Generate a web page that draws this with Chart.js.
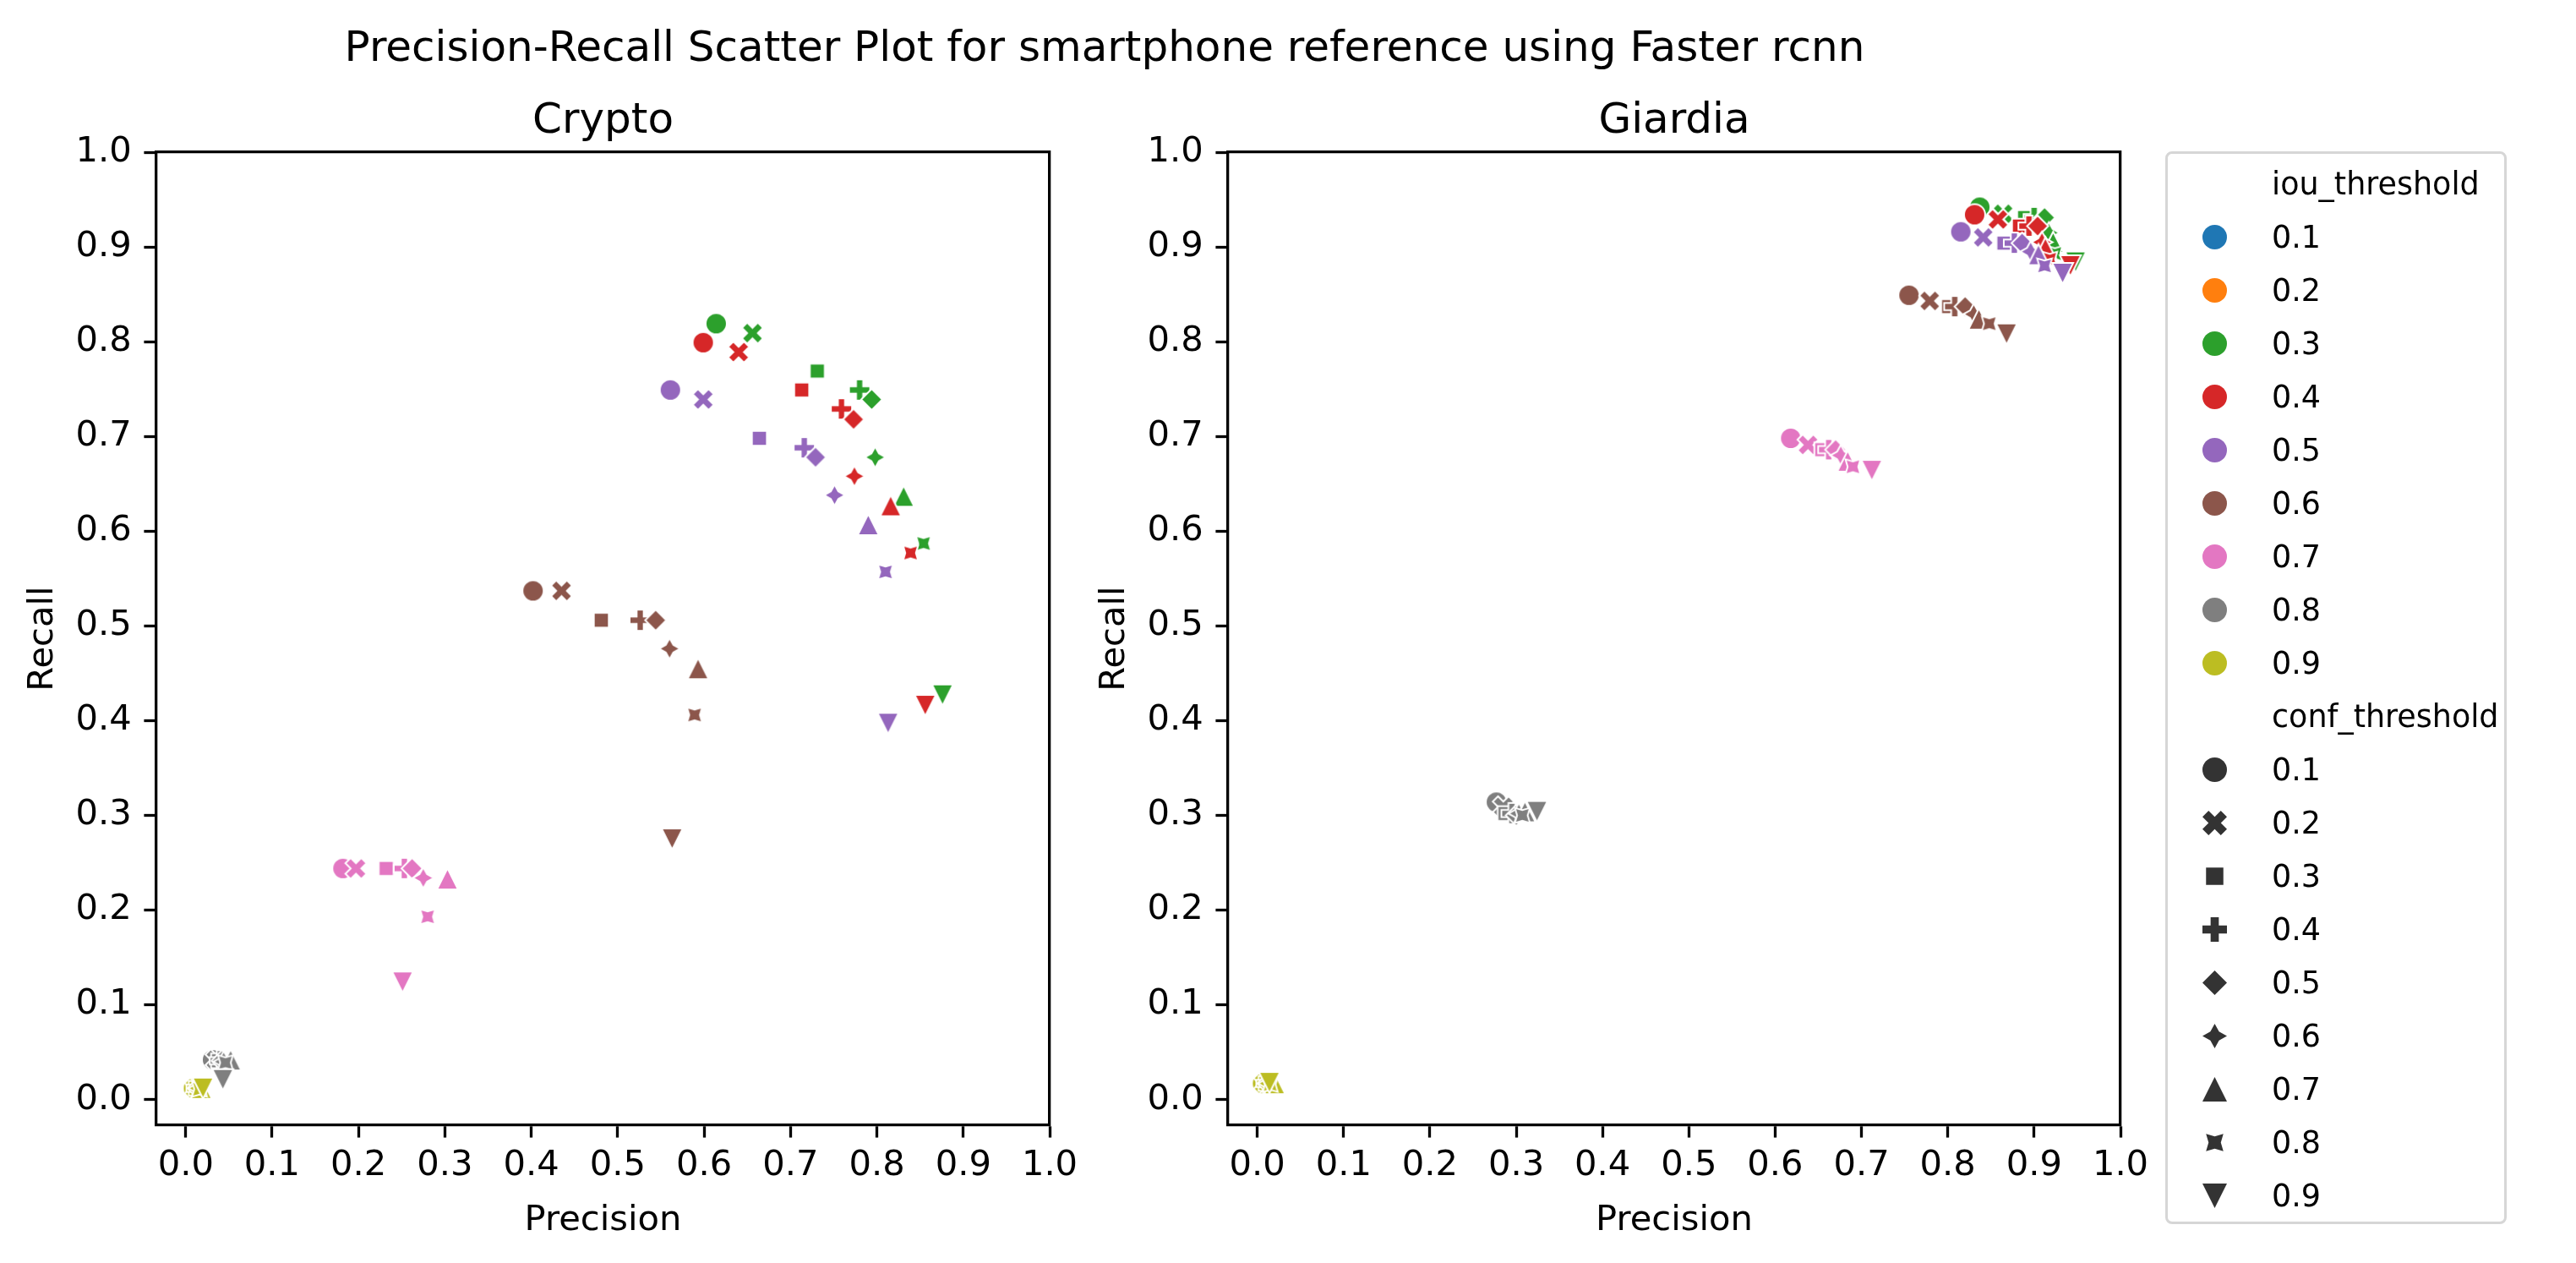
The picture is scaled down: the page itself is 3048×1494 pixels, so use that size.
<!DOCTYPE html>
<html>
<head>
<meta charset="utf-8">
<title>Precision-Recall Scatter Plot</title>
<script src="https://cdn.jsdelivr.net/npm/chart.js@4.4.1/dist/chart.umd.min.js"></script>
<style>
  html, body { margin: 0; padding: 0; background: #fff; }
  body {
    width: 3048px;
    height: 1494px;
    position: relative;
    overflow: hidden;
    font-family: 'DejaVu Sans', sans-serif;
    color: #000;
  }
  .panel { position: absolute; top: 0; }
  #suptitle {
    position: absolute;
    left: 1307px;
    top: 29.7px;
    transform: translateX(-50%);
    font-size: 50px;
    line-height: 50px;
    white-space: nowrap;
  }
  #legend-box {
    position: absolute;
    left: 2562px;
    top: 179px;
    width: 404px;
    height: 1269px;
    box-sizing: border-box;
    border: 3.3px solid #d6d6d6;
    border-radius: 8px;
    background: rgba(255, 255, 255, 0.8);
  }
  .legend-marker { position: absolute; }
  .legend-label {
    position: absolute;
    left: 2688px;
    font-size: 36.5px;
    line-height: 63px;
    height: 63px;
    white-space: nowrap;
  }
</style>
</head>
<body>
<div id="suptitle">Precision-Recall Scatter Plot for smartphone reference using Faster rcnn</div>
<div class="panel" style="left:0px"><canvas id="cryptoChart" width="1427" height="1494"></canvas></div>
<div class="panel" style="left:1268px"><canvas id="giardiaChart" width="1426" height="1494"></canvas></div>
<div id="legend-box"></div>
<div id="legend-rows"></div>
<script>
'use strict';

// hue (iou_threshold) and style (conf_threshold) levels
const iouLevels = ['0.1', '0.2', '0.3', '0.4', '0.5', '0.6', '0.7', '0.8', '0.9'];
const confLevels = ['0.1', '0.2', '0.3', '0.4', '0.5', '0.6', '0.7', '0.8', '0.9'];
const iouColors = ['#1f77b4', '#ff7f0e', '#2ca02c', '#d62728', '#9467bd', '#8c564b', '#e377c2', '#7f7f7f', '#bcbd22'];
const confMarkers = ['o', 'X', 'square', 'P', 'diamond', 'star', '^', 'star45', 'v'];

const tickValues = [0, 0.1, 0.2, 0.3, 0.4, 0.5, 0.6, 0.7, 0.8, 0.9, 1.0];

// rows: iou 0.1 .. 0.9, columns: conf 0.1 .. 0.9 (iou 0.1 / 0.2 show no marks)
const cryptoPrecision = [
  [],
  [],
  [0.614, 0.656, 0.731, 0.780, 0.794, 0.798, 0.831, 0.854, 0.876],
  [0.599, 0.640, 0.713, 0.759, 0.773, 0.774, 0.816, 0.839, 0.856],
  [0.561, 0.599, 0.664, 0.716, 0.729, 0.751, 0.790, 0.810, 0.813],
  [0.402, 0.435, 0.481, 0.526, 0.544, 0.560, 0.593, 0.589, 0.563],
  [0.182, 0.197, 0.232, 0.253, 0.262, 0.275, 0.303, 0.280, 0.251],
  [0.031, 0.035, 0.038, 0.040, 0.042, 0.044, 0.052, 0.046, 0.043],
  [0.009, 0.011, 0.012, 0.013, 0.014, 0.015, 0.018, 0.016, 0.020],
];
const cryptoRecall = [
  [],
  [],
  [0.819, 0.809, 0.769, 0.749, 0.739, 0.678, 0.637, 0.587, 0.427],
  [0.799, 0.789, 0.749, 0.729, 0.718, 0.658, 0.627, 0.577, 0.416],
  [0.749, 0.739, 0.698, 0.688, 0.678, 0.638, 0.607, 0.557, 0.397],
  [0.537, 0.537, 0.506, 0.506, 0.506, 0.476, 0.455, 0.406, 0.275],
  [0.244, 0.244, 0.244, 0.244, 0.244, 0.234, 0.233, 0.193, 0.124],
  [0.042, 0.042, 0.041, 0.041, 0.041, 0.040, 0.042, 0.039, 0.021],
  [0.012, 0.012, 0.012, 0.012, 0.012, 0.012, 0.012, 0.011, 0.012],
];

const giardiaPrecision = [
  [],
  [],
  [0.837, 0.864, 0.889, 0.900, 0.912, 0.917, 0.922, 0.924, 0.948],
  [0.831, 0.858, 0.883, 0.894, 0.904, 0.909, 0.913, 0.918, 0.942],
  [0.815, 0.841, 0.865, 0.877, 0.886, 0.896, 0.905, 0.912, 0.933],
  [0.755, 0.779, 0.801, 0.808, 0.820, 0.830, 0.836, 0.848, 0.868],
  [0.618, 0.638, 0.654, 0.662, 0.670, 0.676, 0.684, 0.690, 0.712],
  [0.277, 0.285, 0.287, 0.295, 0.300, 0.303, 0.310, 0.307, 0.324],
  [0.006, 0.008, 0.010, 0.011, 0.012, 0.013, 0.020, 0.015, 0.014],
];
const giardiaRecall = [
  [],
  [],
  [0.942, 0.935, 0.931, 0.931, 0.931, 0.915, 0.905, 0.893, 0.884],
  [0.934, 0.929, 0.922, 0.922, 0.922, 0.905, 0.899, 0.887, 0.880],
  [0.916, 0.910, 0.904, 0.904, 0.904, 0.895, 0.892, 0.880, 0.872],
  [0.849, 0.843, 0.837, 0.837, 0.837, 0.829, 0.824, 0.819, 0.808],
  [0.698, 0.691, 0.686, 0.686, 0.686, 0.680, 0.674, 0.668, 0.664],
  [0.314, 0.309, 0.302, 0.302, 0.300, 0.302, 0.304, 0.300, 0.304],
  [0.017, 0.017, 0.017, 0.017, 0.017, 0.017, 0.017, 0.016, 0.018],
];

const FONT_FAMILY = "'DejaVu Sans', sans-serif";
const tickFont = { family: FONT_FAMILY, size: 41.67 };
const labelFont = { family: FONT_FAMILY, size: 41.67 };
const titleFont = { family: FONT_FAMILY, size: 50, weight: 'normal' };

const MARKER_SIZE = 25;
const MARKER_EDGE = 2;
const LEGEND_MARKER_SIZE = 29;
const LEGEND_FIRST_ROW = 217.2;
const LEGEND_ROW_STEP = 63;
const LEGEND_MARKER_X = 2620;

// matplotlib-like marker outlines, unit size, y pointing up
function regularShape(count, radii, startDeg) {
  const pts = [];
  for (let i = 0; i < count; i++) {
    const a = (startDeg + i * 360 / count) * Math.PI / 180;
    const r = radii[i % radii.length];
    pts.push([r * Math.cos(a), r * Math.sin(a)]);
  }
  return pts;
}

const markerOutlines = {
  X: [[0.25, 0], [0.5, 0.25], [0.75, 0], [1, 0.25], [0.75, 0.5], [1, 0.75],
      [0.75, 1], [0.5, 0.75], [0.25, 1], [0, 0.75], [0.25, 0.5], [0, 0.25]]
      .map(([x, y]) => [x - 0.5, y - 0.5]),
  P: [[-1, -3], [1, -3], [1, -1], [3, -1], [3, 1], [1, 1], [1, 3], [-1, 3],
      [-1, 1], [-3, 1], [-3, -1], [-1, -1]].map(([x, y]) => [x / 6, y / 6]),
  square: regularShape(4, [0.5], 135),
  diamond: regularShape(4, [0.5], 90),
  star: regularShape(8, [0.5, 0.25], 90),
  star45: regularShape(8, [0.5, 0.25], 135),
  '^': [[0, 0.5], [-0.5, -0.5], [0.5, -0.5]],
  v: [[0, -0.5], [-0.5, 0.5], [0.5, 0.5]],
};

function tracePath(ctx, shape, size) {
  ctx.beginPath();
  if (shape === 'o') {
    ctx.arc(0, 0, size / 2, 0, Math.PI * 2);
  } else {
    markerOutlines[shape].forEach(([x, y], i) => {
      if (i === 0) ctx.moveTo(x * size, -y * size);
      else ctx.lineTo(x * size, -y * size);
    });
  }
  ctx.closePath();
}

function makeMarker(shape, fill, size, edge) {
  const dim = Math.ceil(size + edge * 2 + 6);
  const canvas = document.createElement('canvas');
  canvas.width = dim;
  canvas.height = dim;
  const ctx = canvas.getContext('2d');
  ctx.translate(dim / 2, dim / 2);
  tracePath(ctx, shape, size);
  ctx.fillStyle = fill;
  ctx.fill();
  if (edge > 0) {
    ctx.lineWidth = edge;
    ctx.strokeStyle = '#ffffff';
    ctx.lineJoin = shape === 'o' ? 'round' : 'miter';
    ctx.stroke();
  }
  return canvas;
}

function axisCommon() {
  return {
    type: 'linear',
    afterBuildTicks: (scale) => {
      scale.ticks = tickValues.map((v) => ({ value: v }));
    },
    ticks: {
      color: '#000',
      font: tickFont,
      autoSkip: false,
      maxRotation: 0,
      callback: (value) => Number(value).toFixed(1),
    },
    grid: {
      display: true,
      drawOnChartArea: false,
      drawTicks: true,
      tickLength: 14.6,
      tickWidth: 3.3,
      tickColor: '#000',
    },
    border: { display: true, color: '#000', width: 3.3 },
  };
}

function frameAxis(axis, position, size) {
  return {
    type: 'linear',
    axis,
    position,
    ticks: { display: false },
    grid: { display: false, drawTicks: false },
    border: { display: true, color: '#000', width: 3.3 },
    afterFit: (scale) => {
      if (axis === 'x') scale.height = size;
      else scale.width = size;
    },
  };
}

function buildPanel(canvasId, title, precision, recall) {
  const datasets = iouLevels.map((iou, i) => ({
    label: iou,
    order: iouLevels.length - i,
    data: precision[i].map((p, j) => ({ x: p, y: recall[i][j] })),
    pointStyle: confMarkers.map((m) => makeMarker(m, iouColors[i], MARKER_SIZE, MARKER_EDGE)),
    pointRadius: 12,
    pointHoverRadius: 12,
    showLine: false,
  }));

  const x = axisCommon();
  Object.assign(x, {
    position: 'bottom',
    min: -0.034,
    max: 1.0,
    afterFit: (scale) => { scale.height = 163; },
    title: {
      display: true,
      text: 'Precision',
      color: '#000',
      font: labelFont,
      padding: { top: 0, bottom: 25 },
    },
  });
  x.ticks.padding = 9;

  const y = axisCommon();
  Object.assign(y, {
    position: 'left',
    min: -0.027,
    max: 1.0,
    afterFit: (scale) => { scale.width = 185; },
    title: {
      display: true,
      text: 'Recall',
      color: '#000',
      font: labelFont,
      padding: { top: 26, bottom: 0 },
    },
  });
  y.ticks.padding = 14.6;

  return new Chart(document.getElementById(canvasId), {
    type: 'scatter',
    data: { datasets },
    options: {
      responsive: false,
      animation: false,
      events: [],
      layout: { padding: 0 },
      plugins: {
        legend: { display: false },
        tooltip: { enabled: false },
        title: {
          display: true,
          text: title,
          color: '#000',
          font: titleFont,
          padding: { top: 114, bottom: 6 },
        },
      },
      scales: {
        x,
        y,
        xTop: frameAxis('x', 'top', 0),
        yRight: frameAxis('y', 'right', 185),
      },
    },
  });
}

function buildLegend() {
  const holder = document.getElementById('legend-rows');
  const rows = [{ text: 'iou_threshold' }];
  iouLevels.forEach((lvl, i) => rows.push({ text: lvl, shape: 'o', color: iouColors[i] }));
  rows.push({ text: 'conf_threshold' });
  confLevels.forEach((lvl, i) => rows.push({ text: lvl, shape: confMarkers[i], color: '#333333' }));

  rows.forEach((row, i) => {
    const center = LEGEND_FIRST_ROW + i * LEGEND_ROW_STEP;
    if (row.shape) {
      const marker = makeMarker(row.shape, row.color, LEGEND_MARKER_SIZE, 0);
      marker.className = 'legend-marker';
      marker.style.left = (LEGEND_MARKER_X - marker.width / 2) + 'px';
      marker.style.top = (center - marker.height / 2) + 'px';
      holder.appendChild(marker);
    }
    const label = document.createElement('div');
    label.className = 'legend-label';
    label.style.top = (center - LEGEND_ROW_STEP / 2) + 'px';
    label.textContent = row.text;
    holder.appendChild(label);
  });
}

buildPanel('cryptoChart', 'Crypto', cryptoPrecision, cryptoRecall);
buildPanel('giardiaChart', 'Giardia', giardiaPrecision, giardiaRecall);
buildLegend();
</script>
</body>
</html>
